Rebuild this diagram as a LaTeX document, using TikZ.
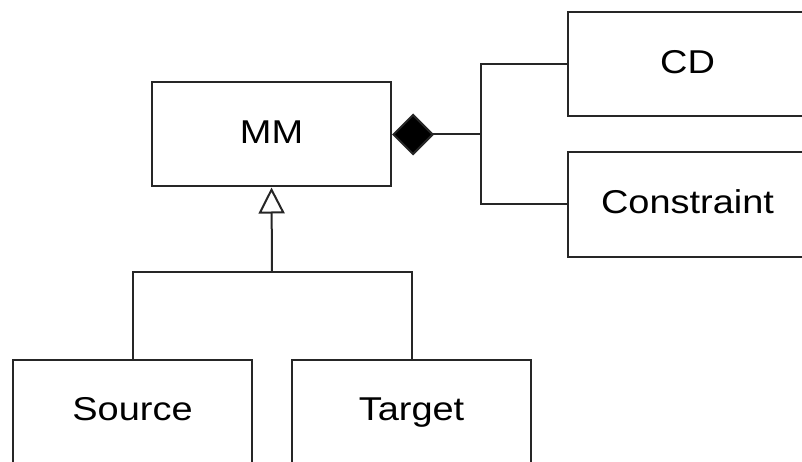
\documentclass[tikz,border=0pt]{standalone}
\usepackage{fontspec}
\setmainfont{Liberation Sans}[FakeStretch=1.15]
\usetikzlibrary{arrows.meta}
\begin{document}
\begin{tikzpicture}[x=1pt,y=1pt,
  cls/.style={draw=black!85, line width=2pt, rectangle, minimum width=239pt, minimum height=104pt, inner sep=0pt, text height=23.6pt, text depth=6pt, font=\fontsize{33}{36}\selectfont, text=black},
  conn/.style={draw=black!85, line width=2pt}]
\useasboundingbox (0,0) rectangle (802,461);
\clip (0,0) rectangle (802,461);
\node[cls] (MM) at (271.5,326.5) {MM};
\node[cls] (CD) at (687.5,396.5) {CD};
\node[cls] (Con) at (687.5,256.5) {Constraint};
\node[cls] (Src) at (132.5,49) {Source};
\node[cls] (Tgt) at (411.5,49) {Target};
\coordinate (jc) at (481,326.5);
\coordinate (jg) at (272,189);
\draw[conn, {Diamond[length=42pt,width=42pt,fill=black]}-] (MM.east) -- (jc);
\draw[conn] (CD.west) -| (jc) |- (Con.west);
\draw[conn, {Triangle[open,length=26pt,width=26pt,fill=white]}-] (MM.south) -- (jg);
\draw[conn] (Src.north) |- (jg) -| (Tgt.north);
\end{tikzpicture}
\end{document}
